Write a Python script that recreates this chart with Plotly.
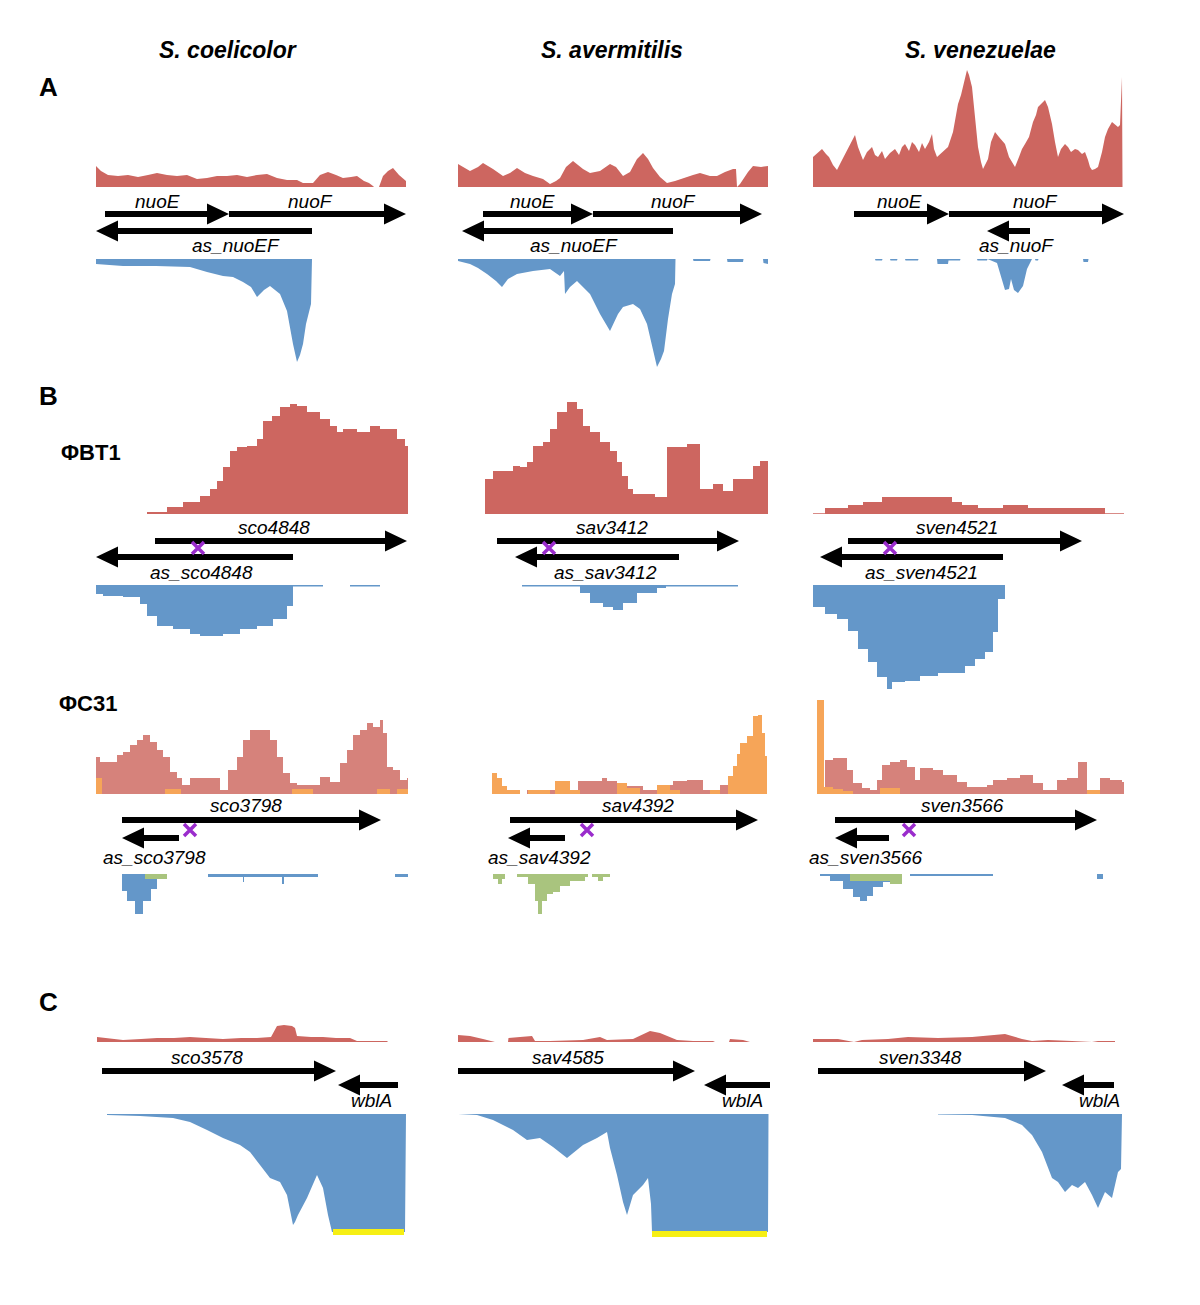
import plotly.graph_objects as go

# ---------------------------------------------------------------- data
SPECIES = ["S. coelicolor", "S. avermitilis", "S. venezuelae"]
SECTION_LETTERS = ["A", "B", "C"]
PHAGES = ["ΦBT1", "ΦC31"]

# positions are locus offsets (same scale in every panel), coverage in arbitrary read units
# ---- A : nuoE / nuoF
A_sco_red_x = [0,5,12,22,32,42,52,61,71,81,91,101,111,121,131,141,151,161,171,181,191,201,207,217,224,232,240,247,255,261,268,273,277,278,283,287,292,297,303,307,310]
A_sco_red_y = [21,16,12,11,12,10,12,14,12,11,12,8,9,11,11,12,10,12,13,9,7,7,4,4,12,15,12,9,10,11,6,4,1,0,0,11,16,19,12,8,6]
A_sco_blue_x = [0,10,27,60,94,111,127,137,147,155,161,168,174,184,191,197,201,204,207,210,215,216]
A_sco_blue_y = [5,6,7,7,8,13,17,18,23,28,38,31,27,35,52,85,103,96,85,65,45,0]

A_sav_red_x = [0,5,12,20,25,30,35,45,52,59,67,75,85,92,98,102,108,115,125,132,142,152,158,165,172,179,185,190,195,202,209,217,225,235,242,252,259,267,275,278,279,282,290,295,303,310]
A_sav_red_y = [23,20,16,20,24,21,18,11,14,19,14,11,8,3,6,9,20,26,18,14,16,23,20,11,15,28,34,28,19,10,4,6,9,12,14,11,11,15,18,18,0,3,15,21,20,21]
A_sav_blue_x = [0,12,20,29,38,44,50,59,75,92,102,106,107,112,119,125,132,142,152,160,165,175,182,189,195,199,203,206,210,214,217,217.5,235,235.5,252,252.5,269,269.5,285,285.5,305,305.5,310]
A_sav_blue_y = [2,5,9,15,22,28,20,15,12,10,17,12,35,28,22,28,35,55,72,55,48,45,50,65,90,108,100,92,60,35,25,0,0,2,2,0,0,3,3,0,0,4,5]

A_ven_red_x = [0,4,9,13,16,20,24,28,32,36,39,42,45,50,54,59,62,65,69,72,77,82,86,89,92,96,99,102,106,109,112,116,119,121,124,128,132,135,140,145,148,150,152,154,156,159,162,165,168,170,172,175,178,182,186,189,192,196,199,202,206,209,212,216,220,223,225,229,232,235,239,242,245,248,252,255,258,262,265,269,272,275,277,279,282,285,289,292,295,299,302,305,307,308,309,309.5]
A_ven_red_y = [30,34,38,33,30,22,17,25,33,40,46,52,40,27,35,40,32,30,36,28,34,38,32,40,43,36,45,42,35,44,38,45,53,38,30,34,38,40,55,83,92,100,110,117,112,100,70,40,25,18,22,28,45,55,50,46,43,30,25,20,30,38,43,50,65,72,80,84,87,80,63,45,30,38,43,40,35,38,37,33,35,27,20,17,18,20,35,50,58,65,62,60,62,85,110,0]
A_ven_blue_x = [62,62.5,69,69.5,77,77.5,84,84.5,92,92.5,105,105.5,124,124.5,135,135.5,147,147.5,164,164.5,174,174.5,184,188,192,196,198,201,205,210,214,218,219,222,222.5,225,225.5,270,270.5,275,275.5]
A_ven_blue_y = [0,1.5,1.5,0,0,1.5,1.5,0,0,1.5,1.5,0,0,5,5,1.5,1.5,0,0,1.5,1.5,0,4,17,31,30,20,31,34,27,10,2,0,0,1.5,1.5,0,0,3,3,0]

# ---- B : ΦBT1 attachment genes
B1_sco_red_x = [51,71,87,104,114,121,127,134,141,151,161,167,176,184,194,201,211,224,234,241,247,261,274,284,294,301,306,309,312]
B1_sco_red_y = [2,7,12,18,25,33,47,63,67,68,75,93,98,107,110,108,102,95,88,82,85,82,88,85,85,75,75,68,68]
B1_sco_blue_x = [0,7,27,44,51,61,77,94,104,127,144,161,177,191,197,227,254,284]
B1_sco_blue_y = [9,11,12,19,31,41,44,49,51,49,44,41,34,21,1.5,0,1.5,0]

B1_sav_red_x = [27,35,55,62,69,75,85,92,99,109,119,125,132,142,152,159,164,170,175,189,197,209,229,242,255,265,275,295,302,310]
B1_sav_red_y = [35,43,48,47,52,68,72,85,102,112,105,88,82,72,63,52,38,25,20,20,17,67,70,25,30,23,35,48,53,53]
B1_sav_blue_x = [64,122,132,145,155,165,179,192,199,208,280]
B1_sav_blue_y = [1.5,8,18,22,25,18,8,8,3,1.5,0]

B1_ven_red_x = [0,12,35,50,69,139,149,165,190,215,292,311]
B1_ven_red_y = [0.7,6,9,12,17,12,9,6,9,6,0.7,0.7]
B1_ven_blue_x = [0,12,24,35,45,55,64,74,79,92,107,125,152,162,172,180,185,192]
B1_ven_blue_y = [22,29,34,46,64,77,92,104,97,96,91,88,81,74,67,47,14,0]

# ---- B : ΦC31 attachment genes
B2_sco_red_x = [0,4,14,21,27,34,41,47,54,61,67,74,81,86,94,111,124,132,141,147,154,167,174,181,187,194,201,217,224,234,244,251,257,264,271,277,284,287,291,297,304,311,312]
B2_sco_red_y = [37,32,32,39,42,49,54,59,52,44,37,22,16,9,16,16,4,24,37,54,64,64,54,37,21,11,9,9,17,12,31,44,59,64,71,67,74,61,27,24,14,16,16]
B2_sco_orange_x = [0,6,69,85,196,217,281,294,301,312]
B2_sco_orange_y = [16,0,5,0,5,0,5,0,5,5]
B2_sco_blue_x = [26,31,39,47,55,61,71,112,147,148,186,188,222,299,312]
B2_sco_blue_y = [17,27,40,27,15,5,0,3,8,3,10,3,0,3,3]
B2_sco_green_x = [49,71]
B2_sco_green_y = [5,0]

B2_sav_red_x = [69,120,144,149,159,185,199,215,229,245,262,272,309]
B2_sav_red_y = [4,13,16,13,8,4,9,13,14,4,9,13,0]
B2_sav_orange_x = [34,39,44,49,62,70,92,97,112,122,159,169,182,199,212,222,252,262,270,275,279,282,289,295,300,304,307,309]
B2_sav_orange_y = [21,16,8,4,0,4,0,13,4,0,11,6,0,9,4,0,4,0,18,28,40,51,58,78,79,61,38,0]
B2_sav_green_x = [35,40,44,47,59,70,77,80,84,89,95,102,112,127,130,134,140,145,152]
B2_sav_green_y = [5,10,5,0,3,10,27,40,27,20,18,12,7,3,0,3,7,3,0]

B2_ven_red_x = [12,20,34,40,49,57,64,69,77,87,94,102,107,120,130,144,154,174,180,194,207,220,230,244,254,265,274,287,297,309,311]
B2_ven_red_y = [34,36,24,11,6,4,14,29,32,34,27,14,26,24,19,12,7,9,14,16,19,11,4,14,16,32,0,16,14,12,12]
B2_ven_orange_x = [4,11,20,30,40,67,87,274,287]
B2_ven_orange_y = [94,7,5,3,0,6,0,4,0]
B2_ven_blue_x = [7,17,30,40,47,54,60,70,87,89,97,180,284,290]
B2_ven_blue_y = [2,7,15,23,27,22,13,8,3,0,2,0,5,0]
B2_ven_green_x = [37,77,89]
B2_ven_green_y = [7,10,0]

# ---- C : wblA region
C_sco_red_x = [1,15,27,45,61,78,94,110,127,145,161,175,179,181,188,196,199,201,215,227,240,254,261,276,291,292]
C_sco_red_y = [5,3,2,3,4,4,5,4,3,4,4,5,12,16,17,16,14,6,5,5,4,4,1,1,1,0]
C_sco_blue_x = [11,44,77,94,111,127,144,154,164,174,184,191,197,199,202,211,221,227,232,236,309,310]
C_sco_blue_y = [1,2,4,8,16,24,31,38,51,64,68,81,111,108,101,84,61,74,101,118,118,0]

C_sav_red_x = [0,12,25,34,37,50,50.5,62,74,77,92,125,142,149,175,192,202,219,235,255,257,271,272,285,292]
C_sav_red_y = [7,6,3,1,0,0,4,5,6,1,1,2,5,2,3,11,9,2,1,1,0,0,3,2,0]
C_sav_blue_x = [0,19,35,55,69,82,95,109,125,139,149,152,159,165,169,175,185,190,193,194,310,310.5]
C_sav_blue_y = [0,1,6,16,26,24,33,44,31,24,18,34,61,88,101,81,71,64,90,118,118,0]

C_ven_red_x = [0,25,41,49,75,95,125,159,192,209,219,235,259,279,285,302]
C_ven_red_y = [3,3,0,2,3,5,4,5,8,3,1,2,1,0,1,1]
C_ven_blue_x = [125,159,192,209,219,229,239,245,252,259,265,272,279,285,292,299,305,308,309]
C_ven_blue_y = [0.5,1,4,11,21,38,64,68,78,71,74,68,81,94,78,84,58,55,0]

# saturated wblA coverage (start, end, level) per column
C_sat_start = [237, 194]
C_sat_end = [308, 309]
C_sat_level = [118, 120]

# genes: (name, start, end, strand-lane, label position)
A_sco_genes = [("nuoE", 9, 133, 0, 61), ("nuoF", 133, 310, 0, 214), ("as_nuoEF", 216, 0, 1, 140)]
A_sav_genes = [("nuoE", 25, 135, 0, 74), ("nuoF", 135, 304, 0, 215), ("as_nuoEF", 215, 4, 1, 116)]
A_ven_genes = [("nuoE", 41, 136, 0, 86), ("nuoF", 136, 311, 0, 222), ("as_nuoF", 217, 174, 1, 203)]
B1_sco_genes = [("sco4848", 59, 311, 0, 178), ("as_sco4848", 197, 0, 1, 105)]
B1_sav_genes = [("sav3412", 39, 281, 0, 154), ("as_sav3412", 221, 57, 1, 147)]
B1_ven_genes = [("sven4521", 35, 269, 0, 144), ("as_sven4521", 190, 7, 1, 108)]
B2_sco_genes = [("sco3798", 26, 285, 0, 150), ("as_sco3798", 83, 26, 1, 58)]
B2_sav_genes = [("sav4392", 52, 300, 0, 180), ("as_sav4392", 107, 50, 1, 81)]
B2_ven_genes = [("sven3566", 22, 284, 0, 149), ("as_sven3566", 76, 22, 1, 52)]
C_sco_genes = [("sco3578", 6, 240, 0, 111), ("wblA", 302, 242, 1, 275)]
C_sav_genes = [("sav4585", 0, 237, 0, 110), ("wblA", 312, 246, 1, 284)]
C_ven_genes = [("sven3348", 5, 233, 0, 107), ("wblA", 301, 249, 1, 286)]

# phage attB sites (position per column)
B1_att_pos = [102, 91, 77]
B2_att_pos = [94, 129, 96]

# ---------------------------------------------------------------- style / layout
FIG_W, FIG_H = 1200, 1305
COL_LEFT = [96, 458, 813]
COL_W = 312
ROWS = [  # pixel geometry of each track band; up/down = label offsets (px) above/below lanes
    dict(red_base=187, red_top=70, lane0=214, lane1=231, blue_base=259, blue_bot=375, up=13, down=14),
    dict(red_base=514, red_top=398, lane0=541, lane1=557, blue_base=585, blue_bot=695, up=14, down=15),
    dict(red_base=794, red_top=697, lane0=820, lane1=838, blue_base=874, blue_bot=925, up=14, down=20),
    dict(red_base=1042, red_top=1022, lane0=1071, lane1=1085, blue_base=1114, blue_bot=1240, up=14, down=15),
]
RED = "#cd6660"
RED2 = "#d6827b"
ORANGE = "#f6a558"
BLUE = "#6497c9"
GREEN = "#a9c47e"
YELLOW = "#f6ef14"
PURPLE = "#9a2ccc"
FONT = "Liberation Sans, Arial, sans-serif"
HEAD_LEN, HEAD_HALF, SHAFT_HALF = 22, 10.5, 3.0


def fy(px):
    return 1 - px / FIG_H


def xname(c):
    return "x" if c == 0 else f"x{c + 1}"


def yname(r, t):
    n = r * 3 + t + 1
    return "y" if n == 1 else f"y{n}"


fig = go.Figure()
layout = {}
for c, left in enumerate(COL_LEFT):
    layout["xaxis" if c == 0 else f"xaxis{c + 1}"] = dict(
        domain=[left / FIG_W, (left + COL_W) / FIG_W], range=[0, COL_W], visible=False, fixedrange=True)
for r, g in enumerate(ROWS):
    sp = g["lane1"] - g["lane0"]
    doms = [
        ([fy(g["red_base"]), fy(g["red_top"])], [0, g["red_base"] - g["red_top"]]),
        ([fy(g["lane1"] + sp), fy(g["lane0"] - sp)], [2, -1]),
        ([fy(g["blue_bot"]), fy(g["blue_base"])], [g["blue_bot"] - g["blue_base"], 0]),
    ]
    for t, (dom, rng) in enumerate(doms):
        n = r * 3 + t + 1
        layout["yaxis" if n == 1 else f"yaxis{n}"] = dict(domain=dom, range=rng, visible=False, fixedrange=True, anchor="x")


def area(x, y, r, c, t, color, shape):
    fig.add_trace(go.Scatter(x=x, y=y, mode="lines", line=dict(width=0, shape=shape, color=color),
                             fill="tozeroy", fillcolor=color, xaxis=xname(c), yaxis=yname(r, t),
                             hoverinfo="skip", showlegend=False))


# coverage tracks: (row, col, track, x, y, color, shape)
TRACKS = [
    (0, 0, 0, A_sco_red_x, A_sco_red_y, RED, "linear"), (0, 0, 2, A_sco_blue_x, A_sco_blue_y, BLUE, "linear"),
    (0, 1, 0, A_sav_red_x, A_sav_red_y, RED, "linear"), (0, 1, 2, A_sav_blue_x, A_sav_blue_y, BLUE, "linear"),
    (0, 2, 0, A_ven_red_x, A_ven_red_y, RED, "linear"), (0, 2, 2, A_ven_blue_x, A_ven_blue_y, BLUE, "linear"),
    (1, 0, 0, B1_sco_red_x, B1_sco_red_y, RED, "hv"), (1, 0, 2, B1_sco_blue_x, B1_sco_blue_y, BLUE, "hv"),
    (1, 1, 0, B1_sav_red_x, B1_sav_red_y, RED, "hv"), (1, 1, 2, B1_sav_blue_x, B1_sav_blue_y, BLUE, "hv"),
    (1, 2, 0, B1_ven_red_x, B1_ven_red_y, RED, "hv"), (1, 2, 2, B1_ven_blue_x, B1_ven_blue_y, BLUE, "hv"),
    (2, 0, 0, B2_sco_red_x, B2_sco_red_y, RED2, "hv"), (2, 0, 0, B2_sco_orange_x, B2_sco_orange_y, ORANGE, "hv"),
    (2, 0, 2, B2_sco_blue_x, B2_sco_blue_y, BLUE, "hv"), (2, 0, 2, B2_sco_green_x, B2_sco_green_y, GREEN, "hv"),
    (2, 1, 0, B2_sav_red_x, B2_sav_red_y, RED2, "hv"), (2, 1, 0, B2_sav_orange_x, B2_sav_orange_y, ORANGE, "hv"),
    (2, 1, 2, B2_sav_green_x, B2_sav_green_y, GREEN, "hv"),
    (2, 2, 0, B2_ven_red_x, B2_ven_red_y, RED2, "hv"), (2, 2, 0, B2_ven_orange_x, B2_ven_orange_y, ORANGE, "hv"),
    (2, 2, 2, B2_ven_blue_x, B2_ven_blue_y, BLUE, "hv"), (2, 2, 2, B2_ven_green_x, B2_ven_green_y, GREEN, "hv"),
    (3, 0, 0, C_sco_red_x, C_sco_red_y, RED, "linear"), (3, 0, 2, C_sco_blue_x, C_sco_blue_y, BLUE, "linear"),
    (3, 1, 0, C_sav_red_x, C_sav_red_y, RED, "linear"), (3, 1, 2, C_sav_blue_x, C_sav_blue_y, BLUE, "linear"),
    (3, 2, 0, C_ven_red_x, C_ven_red_y, RED, "linear"), (3, 2, 2, C_ven_blue_x, C_ven_blue_y, BLUE, "linear"),
]
for r, c, t, x, y, color, shape in TRACKS:
    area(x, y, r, c, t, color, shape)

# saturated region bars
for c in range(len(C_sat_start)):
    fig.add_trace(go.Scatter(x=[C_sat_start[c], C_sat_end[c]], y=[C_sat_level[c]] * 2, mode="lines",
                             line=dict(color=YELLOW, width=6), xaxis=xname(c), yaxis=yname(3, 2),
                             hoverinfo="skip", showlegend=False))

# genes
GENES = [[A_sco_genes, A_sav_genes, A_ven_genes], [B1_sco_genes, B1_sav_genes, B1_ven_genes],
         [B2_sco_genes, B2_sav_genes, B2_ven_genes], [C_sco_genes, C_sav_genes, C_ven_genes]]
annotations = []
for r, row in enumerate(GENES):
    g = ROWS[r]
    sp = g["lane1"] - g["lane0"]
    for c, genes in enumerate(row):
        for name, s, e, lane, lx in genes:
            d = 1 if e > s else -1
            neck = e - d * HEAD_LEN
            sh, hh = SHAFT_HALF / sp, HEAD_HALF / sp
            px = [s, neck, neck, e, neck, neck, s, s]
            py = [lane - sh, lane - sh, lane - hh, lane, lane + hh, lane + sh, lane + sh, lane - sh]
            fig.add_trace(go.Scatter(x=px, y=py, mode="lines", fill="toself", fillcolor="black",
                                     line=dict(width=0, color="black"), xaxis=xname(c), yaxis=yname(r, 1),
                                     hoverinfo="skip", showlegend=False))
            annotations.append(dict(x=lx, y=lane, xref=xname(c), yref=yname(r, 1), text=f"<i>{name}</i>",
                                    showarrow=False, yshift=g["up"] if lane == 0 else -g["down"],
                                    font=dict(family=FONT, size=19, color="black"), xanchor="center", yanchor="middle"))

# attB sites
for r, att, ly in [(1, B1_att_pos, 0.44), (2, B2_att_pos, 0.56)]:
    for c, pos in enumerate(att):
        fig.add_trace(go.Scatter(x=[pos], y=[ly], mode="markers", xaxis=xname(c), yaxis=yname(r, 1),
                                 marker=dict(symbol="x-thin", size=12, line=dict(width=3.5, color=PURPLE)),
                                 hoverinfo="skip", showlegend=False))

# titles and section labels
for name, cx in zip(SPECIES, [228, 612, 980]):
    annotations.append(dict(x=cx / FIG_W, y=fy(50), xref="paper", yref="paper", text=f"<b><i>{name}</i></b>",
                            showarrow=False, xanchor="center", yanchor="middle",
                            font=dict(family=FONT, size=23, color="black")))
for letter, ly in zip(SECTION_LETTERS, [87, 396, 1002]):
    annotations.append(dict(x=48 / FIG_W, y=fy(ly), xref="paper", yref="paper", text=f"<b>{letter}</b>",
                            showarrow=False, xanchor="center", yanchor="middle",
                            font=dict(family=FONT, size=26, color="black")))
for ph, (cx, ly) in zip(PHAGES, [(91, 452), (88, 703)]):
    annotations.append(dict(x=cx / FIG_W, y=fy(ly), xref="paper", yref="paper", text=f"<b>{ph}</b>",
                            showarrow=False, xanchor="center", yanchor="middle",
                            font=dict(family=FONT, size=22, color="black")))

fig.update_layout(width=FIG_W, height=FIG_H, margin=dict(l=0, r=0, t=0, b=0), paper_bgcolor="white",
                  plot_bgcolor="rgba(0,0,0,0)", showlegend=False, annotations=annotations, **layout)
fig.write_html("out.html", config={"displayModeBar": False, "staticPlot": True},
               post_script="document.body.style.margin='0px';")
